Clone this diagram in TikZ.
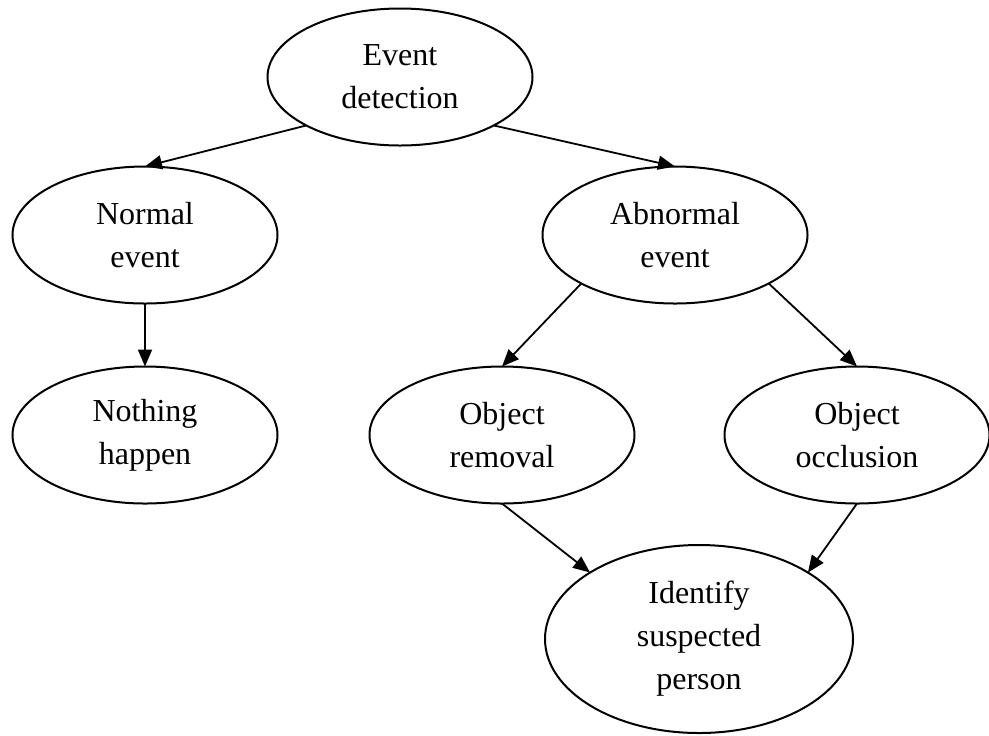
\documentclass[tikz,border=0pt]{standalone}
\usepackage{fontspec}
\setmainfont{Liberation Serif}
\usetikzlibrary{shapes.geometric,arrows.meta}

\tikzset{
    evt/.style = {draw, ellipse, line width = 1pt, inner sep = 0pt, outer sep = 0pt,
        minimum width = 132.5pt, minimum height = 68.5pt, align = center,
        font = \fontsize{16}{21.5}\selectfont},
    link/.style = {line width = .9pt, -{Triangle[length = 8.5pt, width = 7pt]}}
}

\begin{document}
\begin{tikzpicture}[x = .5pt, y = -.5pt]
        \useasboundingbox (0,0) rectangle (989,735);
        \node[evt] (detect) at (400,77) {Event\\detection};
        \node[evt] (normal) at (145,235) {Normal\\event};
        \node[evt] (abnormal) at (675,235) {Abnormal\\event};
        \node[evt] (nothing) at (145,435) {Nothing\\happen};
        \node[evt] (removal) at (502,435) {Object\\removal};
        \node[evt] (occlusion) at (857,435) {Object\\occlusion};
        \node[evt, minimum width = 154pt, minimum height = 94pt] (identify) at (699,639) {Identify\\suspected\\person};
        \draw[link] (detect.south west) -- (normal.north);
        \draw[link] (detect.south east) -- (abnormal.north);
        \draw[link] (normal.south) -- (nothing.north);
        \draw[link] (abnormal.south west) -- (removal.north);
        \draw[link] (abnormal.south east) -- (occlusion.north);
        \draw[link] (removal.south) -- (identify.north west);
        \draw[link] (occlusion.south) -- (identify.north east);
    \end{tikzpicture}
\end{document}
